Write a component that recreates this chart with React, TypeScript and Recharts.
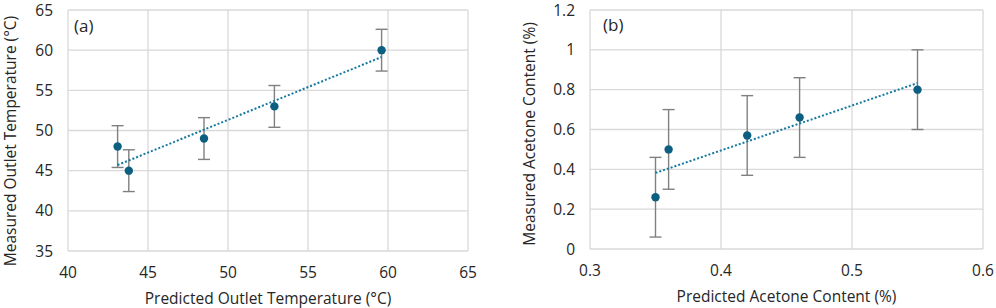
import React from 'react';
import {
  ScatterChart,
  Scatter,
  XAxis,
  YAxis,
  CartesianGrid,
  ErrorBar,
} from 'recharts';

// panel (a) - outlet temperature
const predTemp = [43.1, 43.8, 48.5, 52.9, 59.6];
const measTemp = [48, 45, 49, 53, 60];
const tempErr = [2.6, 2.6, 2.6, 2.6, 2.6];
const tempTrendX = [43.1, 59.6];
const tempTrendY = [45.7, 59.15];
const tempXTicks = [40, 45, 50, 55, 60, 65];
const tempYTicks = [35, 40, 45, 50, 55, 60, 65];

// panel (b) - acetone content
const predAcetone = [0.35, 0.36, 0.42, 0.46, 0.55];
const measAcetone = [0.26, 0.5, 0.57, 0.66, 0.8];
const acetoneErr = [0.2, 0.2, 0.2, 0.2, 0.2];
const acetoneTrendX = [0.35, 0.55];
const acetoneTrendY = [0.382, 0.833];
const acetoneXTicks = [0.3, 0.4, 0.5, 0.6];
const acetoneYTicks = [0, 0.2, 0.4, 0.6, 0.8, 1, 1.2];

const FONT = '"Open Sans", "Liberation Sans", sans-serif';
const DOT = '#0d5f82';
const TREND = '#1479a0';
const GRID = '#d9d9d9';
const TEXT = '#262626';
const TICK_SIZE = 15.5;
const TITLE_SIZE = 15.5;

interface PanelProps {
  width: number;
  margin: { top: number; right: number; left: number; bottom: number };
  yAxisWidth: number;
  xAxisHeight: number;
  px: number[];
  py: number[];
  err: number[];
  tx: number[];
  ty: number[];
  xTicks: number[];
  yTicks: number[];
  xTitle: string;
  yTitle: string;
  xTitlePos: { x: number; y: number };
  yTitlePos: { x: number; y: number };
  tag: string;
  tagPos: { x: number; y: number };
}

const Dot = (props: any) => {
  const { cx, cy } = props;
  if (cx == null || cy == null) return <g />;
  return <circle cx={cx} cy={cy} r={4.2} fill={DOT} />;
};

const Panel: React.FC<PanelProps> = (p) => {
  const points = p.px.map((x, i) => ({ x, y: p.py[i], err: p.err[i] }));
  const trend = p.tx.map((x, i) => ({ x, y: p.ty[i] }));
  const h = 308;
  return (
    <div style={{ position: 'relative', width: p.width, height: h }}>
      <ScatterChart width={p.width} height={h} margin={p.margin} style={{ overflow: 'visible' }}>
        <CartesianGrid stroke={GRID} strokeWidth={1.3} />
        <XAxis
          type="number"
          dataKey="x"
          domain={[p.xTicks[0], p.xTicks[p.xTicks.length - 1]]}
          ticks={p.xTicks}
          interval={0}
          axisLine={false}
          tickLine={false}
          tickMargin={10}
          height={p.xAxisHeight}
          tick={{ fill: TEXT, fontSize: TICK_SIZE, fontFamily: FONT }}
          label={() => (
            <text
              x={p.xTitlePos.x}
              y={p.xTitlePos.y}
              textAnchor="middle"
              dominantBaseline="central"
              fill={TEXT}
              fontSize={TITLE_SIZE}
              fontFamily={FONT}
            >
              {p.xTitle}
            </text>
          )}
        />
        <YAxis
          type="number"
          dataKey="y"
          domain={[p.yTicks[0], p.yTicks[p.yTicks.length - 1]]}
          ticks={p.yTicks}
          interval={0}
          axisLine={false}
          tickLine={false}
          tickMargin={9}
          width={p.yAxisWidth}
          tick={{ fill: TEXT, fontSize: TICK_SIZE, fontFamily: FONT }}
          label={() => (
            <text
              x={p.yTitlePos.x}
              y={p.yTitlePos.y}
              textAnchor="middle"
              dominantBaseline="central"
              transform={`rotate(-90 ${p.yTitlePos.x} ${p.yTitlePos.y})`}
              fill={TEXT}
              fontSize={TITLE_SIZE}
              fontFamily={FONT}
            >
              {p.yTitle}
            </text>
          )}
        />
        <Scatter
          data={trend}
          line={{ stroke: TREND, strokeWidth: 2, strokeDasharray: '2 2' }}
          shape={() => <g />}
          isAnimationActive={false}
        />
        <Scatter data={points} shape={<Dot />} isAnimationActive={false}>
          <ErrorBar
            dataKey="err"
            direction="y"
            width={6}
            stroke="#808080"
            strokeWidth={1.4}
            isAnimationActive={false}
          />
        </Scatter>
      </ScatterChart>
      <div
        style={{
          position: 'absolute',
          left: p.tagPos.x,
          top: p.tagPos.y,
          fontFamily: FONT,
          fontSize: 17,
          color: TEXT,
          lineHeight: 1,
        }}
      >
        {p.tag}
      </div>
    </div>
  );
};

export default function App() {
  return (
    <div
      style={{
        position: 'absolute',
        left: 0,
        top: 0,
        width: 996,
        height: 308,
        background: '#fff',
        display: 'flex',
      }}
    >
      <Panel
        width={496}
        margin={{ top: 10, right: 28, left: 0, bottom: 0 }}
        yAxisWidth={68}
        xAxisHeight={57}
        px={predTemp}
        py={measTemp}
        err={tempErr}
        tx={tempTrendX}
        ty={tempTrendY}
        xTicks={tempXTicks}
        yTicks={tempYTicks}
        xTitle="Predicted Outlet Temperature (°C)"
        yTitle="Measured Outlet Temperature (°C)"
        xTitlePos={{ x: 268, y: 297.5 }}
        yTitlePos={{ x: 10, y: 141 }}
        tag="(a)"
        tagPos={{ x: 74, y: 17 }}
      />
      <Panel
        width={500}
        margin={{ top: 10, right: 13, left: 0, bottom: 0 }}
        yAxisWidth={94}
        xAxisHeight={59}
        px={predAcetone}
        py={measAcetone}
        err={acetoneErr}
        tx={acetoneTrendX}
        ty={acetoneTrendY}
        xTicks={acetoneXTicks}
        yTicks={acetoneYTicks}
        xTitle="Predicted Acetone Content (%)"
        yTitle="Measured Acetone Content (%)"
        xTitlePos={{ x: 290.5, y: 295.5 }}
        yTitlePos={{ x: 33, y: 134 }}
        tag="(b)"
        tagPos={{ x: 107, y: 16 }}
      />
    </div>
  );
}
